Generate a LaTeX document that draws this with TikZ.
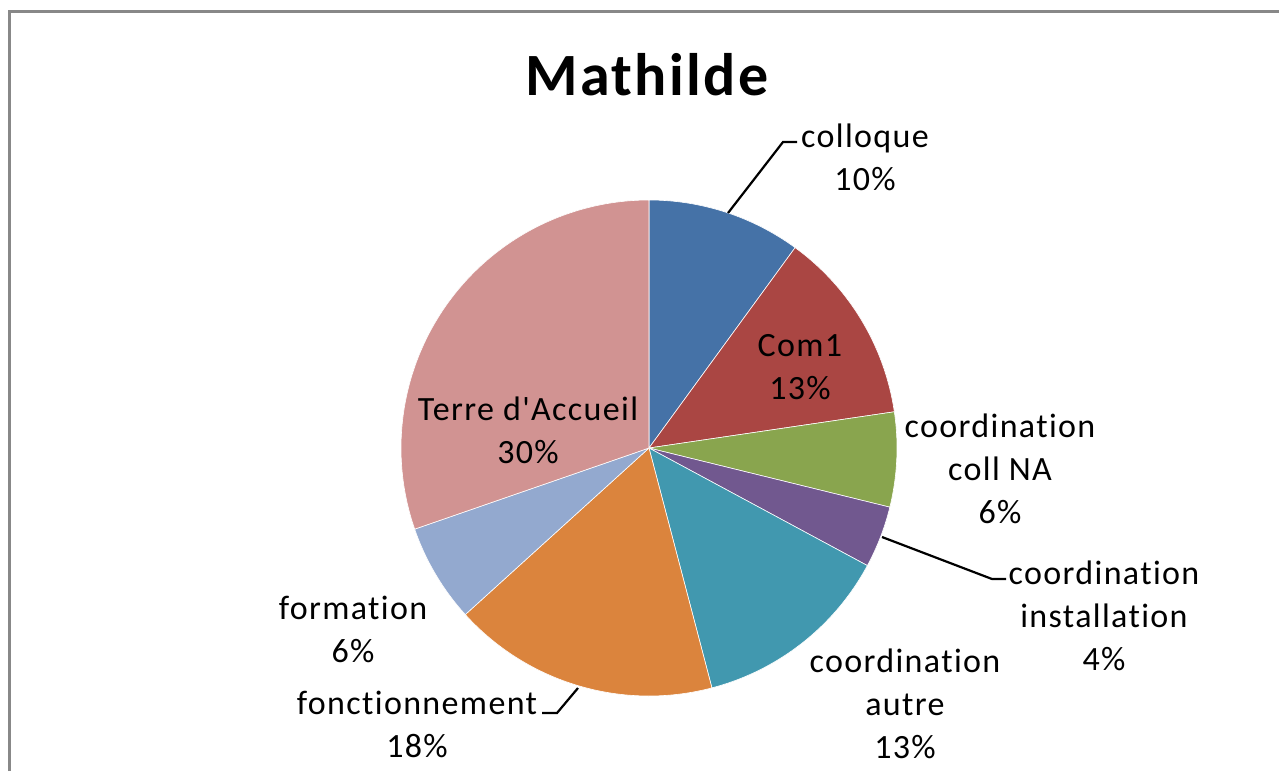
\documentclass[tikz,border=0pt]{standalone}
\usepackage{fontspec}
\setmainfont{Carlito}[LetterSpace=4, Ligatures={NoCommon,TeXOff}]
\newfontfamily\titlefont{Carlito}[LetterSpace=4]
\usetikzlibrary{calc}
\definecolor{cColloque}{HTML}{4572A7}
\definecolor{cCom}{HTML}{AA4643}
\definecolor{cNA}{HTML}{89A54E}
\definecolor{cInst}{HTML}{71588F}
\definecolor{cAutre}{HTML}{4198AF}
\definecolor{cFonc}{HTML}{DB843D}
\definecolor{cForm}{HTML}{93A9CF}
\definecolor{cTerre}{HTML}{D19392}
\definecolor{frameGray}{HTML}{888888}
\tikzset{
  lab/.style={align=center, inner sep=0pt, font=\fontsize{17}{21.5}\selectfont},
  leader/.style={draw=black, line width=1.1pt},
  slice/.style={draw=white, line width=0.3pt}
}
\newcommand{\pieslice}[3]{%
  \filldraw[slice, fill=#3] (C) -- ++(#1:248) arc[start angle=#1, end angle=#2, radius=248] -- cycle;}
\begin{document}
\begin{tikzpicture}[x=0.5pt,y=-0.5pt]
\useasboundingbox (0,0) rectangle (1279,771);
\fill[white] (0,0) rectangle (1279,771);
\draw[frameGray, line width=1.5pt] (9,771) -- (9,11) -- (1279,11);
\coordinate (C) at (649,448);
\pieslice{-90}{-53.9}{cColloque}
\pieslice{-53.9}{-8.4}{cCom}
\pieslice{-8.4}{13.8}{cNA}
\pieslice{13.8}{28.3}{cInst}
\pieslice{28.3}{75.3}{cAutre}
\pieslice{75.3}{137.8}{cFonc}
\pieslice{137.8}{160.9}{cForm}
\pieslice{160.9}{270}{cTerre}
\node[anchor=base, inner sep=0pt, font=\titlefont\fontsize{30}{36}\selectfont\bfseries] (title) at (647,95) {Mathilde};
\node[lab] (colloque) at (865,157) {colloque\\10\%};
\node[lab] (com) at (800,367) {Com1\\13\%};
\node[lab] (terre) at (528,430) {Terre d'Accueil\\30\%};
\node[lab] (na) at (1000,469) {coordination\\coll NA\\6\%};
\node[lab] (inst) at (1104,616) {coordination\\installation\\4\%};
\node[lab] (autre) at (905,704) {coordination\\autre\\13\%};
\node[lab] (fonc) at (417,724) {fonctionnement\\18\%};
\node[lab] (form) at (353,629) {formation\\6\%};
\coordinate (p1) at (728,213);
\coordinate (b1) at (783,142);
\coordinate (e1) at (797,142);
\draw[leader] (p1) -- (b1) -- (e1);
\coordinate (p2) at (882,537);
\coordinate (b2) at (992,579);
\coordinate (e2) at (1006,579);
\draw[leader] (p2) -- (b2) -- (e2);
\coordinate (p3) at (578,688);
\coordinate (b3) at (557,713);
\coordinate (e3) at (542,713);
\draw[leader] (p3) -- (b3) -- (e3);
\end{tikzpicture}
\end{document}
